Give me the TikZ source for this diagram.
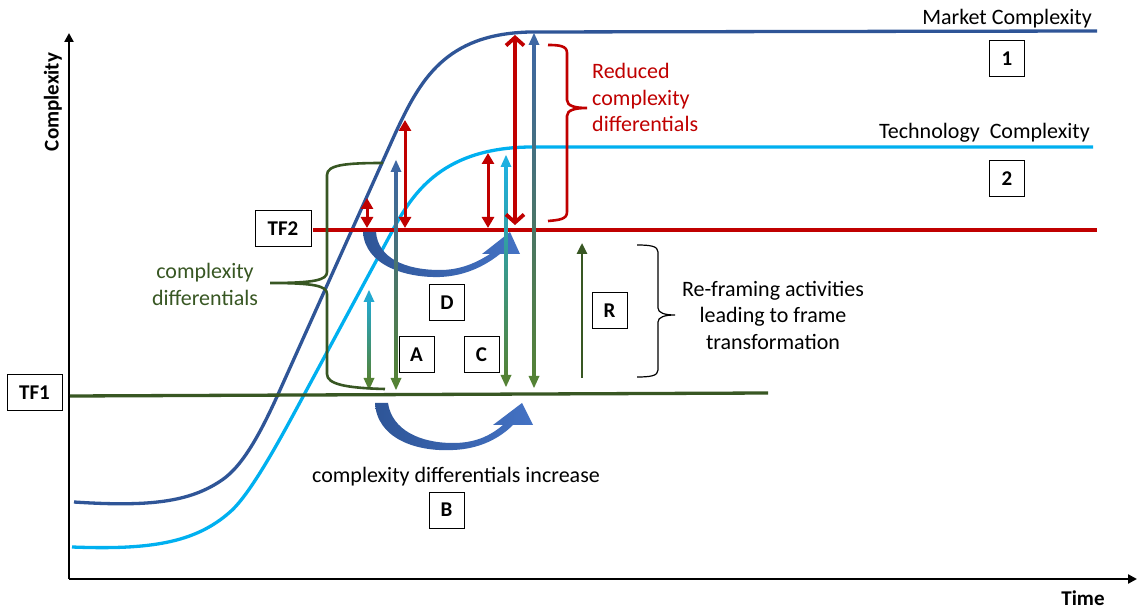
\documentclass[tikz,border=0pt]{standalone}
\usepackage{fontspec}
\setmainfont{Carlito}
\usetikzlibrary{arrows.meta}
\definecolor{mkt}{HTML}{2F5597}
\definecolor{tech}{HTML}{00B0F0}
\definecolor{tfred}{HTML}{C00000}
\definecolor{tfgreen}{HTML}{385723}
\definecolor{argreen}{HTML}{548235}
\definecolor{arblue}{HTML}{3E67A3}
\definecolor{arcyan}{HTML}{1FB0E0}
\definecolor{arteal}{HTML}{22A9D0}
\definecolor{crvdark}{HTML}{2E5597}
\definecolor{crvlight}{HTML}{4472C4}
\newcommand{\gradarr}[5]{%
  \shade[top color=#4, bottom color=#5] (#1-1.5,#2+10) rectangle (#1+1.5,#3-10);
  \fill[#4] (#1,#2) -- (#1-5.5,#2+12) -- (#1+5.5,#2+12) -- cycle;
  \fill[#5] (#1,#3) -- (#1-5.5,#3-12) -- (#1+5.5,#3-12) -- cycle;
}
\begin{document}
\begin{tikzpicture}[x=1pt,y=-1pt,
  lbl/.style={draw=black, line width=1pt, fill=white, inner sep=0pt,
    font=\fontsize{21}{25}\selectfont\bfseries, minimum width=35pt, minimum height=36pt},
  txt/.style={font=\fontsize{22}{26.5}\selectfont, inner sep=0pt},
  crv/.style={line width=3.3pt, line join=round},
  axis/.style={line width=2.5pt, arrows={-Triangle[width=9pt,length=9pt]}},
  redarr/.style={draw=tfred, line width=3pt, arrows={Triangle[width=12pt,length=11pt]-Triangle[width=12pt,length=11pt]}},
  bigred/.style={draw=tfred, line width=3.8pt, arrows={Straight Barb[length=8pt,width=18pt]-Straight Barb[length=8pt,width=18pt]}},
  brace/.style={line width=2.6pt}]
\useasboundingbox (0,0) rectangle (1138,609);
\fill[white] (0,0) rectangle (1138,609);

% axes
\coordinate (o) at (69,579);
\coordinate (ytop) at (69,33);
\coordinate (xend) at (1137,579);
\draw[axis] (o) -- (ytop);
\draw[axis] (o) -- (xend);
\node[font=\fontsize{21}{25}\selectfont\bfseries, rotate=90, inner sep=0pt] (ylab) at (53,102) {Complexity};
\node[font=\fontsize{21}{25}\selectfont\bfseries, inner sep=0pt, anchor=base] (xlab) at (1083,605) {Time};

% curves
\draw[mkt, crv] (74,502) .. controls (150,507) and (190,502) .. (222,480)
  .. controls (244,465) and (262,430) .. (280,390) -- (395,134)
  .. controls (420,80) and (445,34) .. (530,32) -- (1097,31);
\draw[tech, crv] (72,547) .. controls (150,550) and (195,543) .. (230,512)
  .. controls (252,493) and (285,430) .. (305,393) -- (395,226)
  .. controls (415,190) and (445,148) .. (530,147) -- (1093,147);

% frame lines
\draw[tfgreen, line width=3.3pt] (70,396) -- (768,393);
\draw[tfred, line width=3.2pt] (313,230) -- (1097,230);

% curved arrows
\shade[left color=crvdark, right color=crvlight] (375,403) .. controls (377,438) and (415,452) .. (453,450) .. controls (480,449) and (500,438) .. (513,425) -- (533,425) -- (522,403) -- (493,425) -- (503,425) .. controls (490,436) and (475,443) .. (453,443) .. controls (420,443) and (392,430) .. (388,403) -- cycle;
\shade[left color=crvdark, right color=crvlight] (363,232) .. controls (365,265) and (405,278) .. (440,277) .. controls (465,276) and (485,266) .. (500,254) -- (520,254) -- (510,232) -- (482,254) -- (490,254) .. controls (476,263) and (460,270) .. (440,270) .. controls (405,270) and (378,258) .. (376,232) -- cycle;

% gradient double arrows
\gradarr{369}{290}{390}{arteal}{argreen}
\gradarr{396}{160}{390}{arblue}{argreen}
\gradarr{506}{155}{387}{arcyan}{argreen}
\gradarr{534}{33}{388}{arblue}{argreen}
\draw[tfgreen, line width=2.6pt, arrows={-Triangle[width=10pt,length=11pt]}] (582,378) -- (582,243);

% red arrows
\draw[redarr] (367,198) -- (367,228);
\draw[redarr] (405,120) -- (405,228);
\draw[redarr] (488,153) -- (488,228);
\draw[bigred] (515,35) -- (515,225);

% braces
\draw[tfgreen, brace] (383,163) .. controls (345,163) and (327,165) .. (327,175) -- (327,272) .. controls (327,280) and (315,283) .. (270,283) .. controls (315,283) and (327,286) .. (327,294) -- (327,374) .. controls (327,384) and (345,388) .. (385,389);
\draw[tfred, brace] (548,45) .. controls (560,45) and (567,46) .. (567,53) -- (567,100) .. controls (567,106) and (575,108) .. (587,108) .. controls (575,108) and (567,110) .. (567,116) -- (567,212) .. controls (567,219) and (560,220) .. (548,221);
\draw[black, line width=1.2pt] (637,245) .. controls (650,245) and (658,246) .. (658,252) -- (658,308) .. controls (658,313) and (665,315) .. (675,315) .. controls (665,315) and (658,317) .. (658,322) -- (658,370) .. controls (658,376) and (650,377) .. (637,377);

% texts
\node[txt, anchor=base east] (mtxt) at (1092,25) {Market Complexity};
\node[txt, anchor=base east] (ttxt) at (1090,139) {Technology\ \ Complexity};
\node[txt, text=tfred, align=left, anchor=west] (rtxt) at (592,97.5) {Reduced\\complexity\\differentials};
\node[txt, align=center] (ftxt) at (773,315) {Re-framing activities\\leading to frame\\transformation};
\node[txt, text=tfgreen, align=center] (gtxt) at (205,284.5) {complexity\\differentials};
\node[txt, anchor=base] (btxt) at (456,482) {complexity differentials increase};

% boxes
\node[lbl, minimum width=56pt] (tf2) at (283,229) {TF2};
\node[lbl, minimum width=55pt] (tf1) at (34.5,393) {TF1};
\node[lbl] (bD) at (447,302.5) {D};
\node[lbl] (bA) at (416.5,354.5) {A};
\node[lbl] (bC) at (481.5,354.5) {C};
\node[lbl] (bR) at (609.5,310.5) {R};
\node[lbl] (bB) at (446.5,510) {B};
\node[lbl] (b1) at (1007,58.5) {1};
\node[lbl] (b2) at (1007,178.5) {2};
\end{tikzpicture}
\end{document}
